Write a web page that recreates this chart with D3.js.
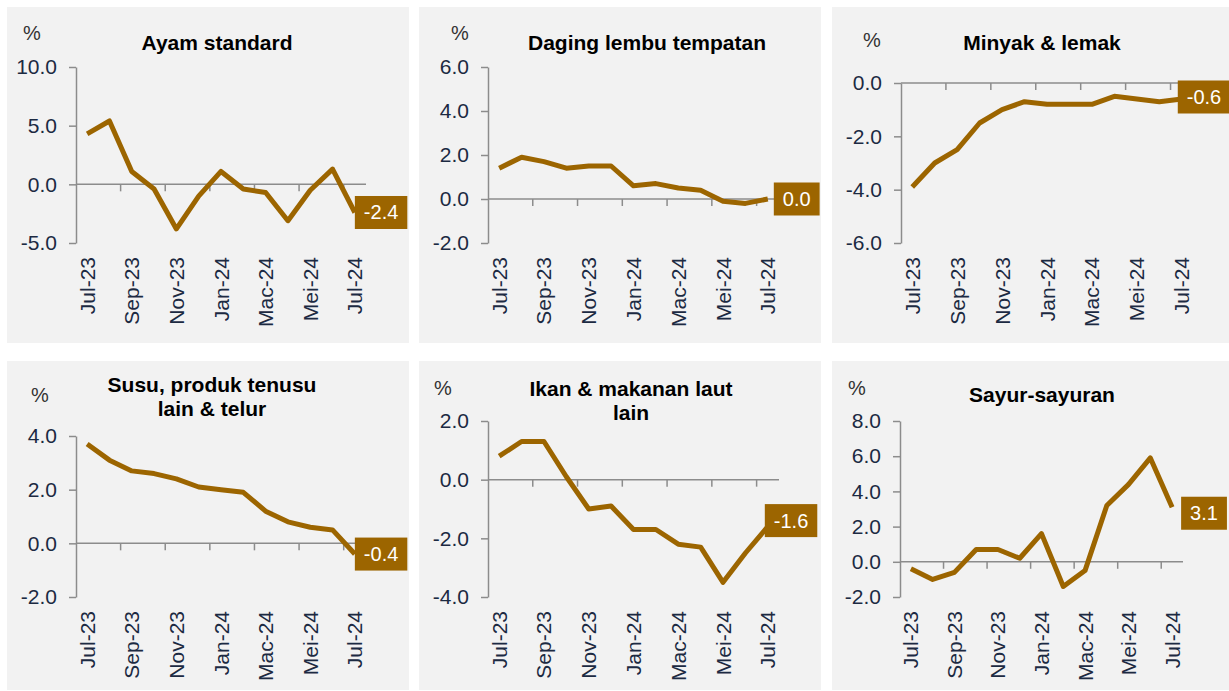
<!DOCTYPE html>
<html>
<head>
<meta charset="utf-8">
<script src="https://cdn.jsdelivr.net/npm/d3@7.9.0/dist/d3.min.js"></script>
<style>
  html, body { margin: 0; padding: 0; background: #fff; }
  svg { display: block; font-family: Arial, "Liberation Sans", sans-serif; }
</style>
</head>
<body>
<svg id="chart" width="1229" height="691"></svg>
<script>
// months Jul-23 .. Jul-24 (Malay abbreviations)
const months = ['Jul-23', 'Ogo-23', 'Sep-23', 'Okt-23', 'Nov-23', 'Dis-23',
                'Jan-24', 'Feb-24', 'Mac-24', 'Apr-24', 'Mei-24', 'Jun-24', 'Jul-24'];

const ayam   = [4.3, 5.4, 1.1, -0.4, -3.8, -1.0, 1.1, -0.4, -0.7, -3.1, -0.5, 1.3, -2.4];
const daging = [1.4, 1.9, 1.7, 1.4, 1.5, 1.5, 0.6, 0.7, 0.5, 0.4, -0.1, -0.2, 0.0];
const minyak = [-3.9, -3.0, -2.5, -1.5, -1.0, -0.7, -0.8, -0.8, -0.8, -0.5, -0.6, -0.7, -0.6];
const susu   = [3.7, 3.1, 2.7, 2.6, 2.4, 2.1, 2.0, 1.9, 1.2, 0.8, 0.6, 0.5, -0.4];
const ikan   = [0.8, 1.3, 1.3, 0.1, -1.0, -0.9, -1.7, -1.7, -2.2, -2.3, -3.5, -2.5, -1.6];
const sayur  = [-0.4, -1.0, -0.6, 0.7, 0.7, 0.2, 1.6, -1.4, -0.5, 3.2, 4.4, 5.9, 3.1];

const ayamTicks   = [-5, 0, 5, 10];
const dagingTicks = [-2, 0, 2, 4, 6];
const minyakTicks = [-6, -4, -2, 0];
const susuTicks   = [-2, 0, 2, 4];
const ikanTicks   = [-4, -2, 0, 2];
const sayurTicks  = [-2, 0, 2, 4, 6, 8];

const titles = [
  ['Ayam standard'],
  ['Daging lembu tempatan'],
  ['Minyak & lemak'],
  ['Susu, produk tenusu', 'lain & telur'],
  ['Ikan & makanan laut', 'lain'],
  ['Sayur-sayuran']
];

const series = [ayam, daging, minyak, susu, ikan, sayur];
const ticks  = [ayamTicks, dagingTicks, minyakTicks, susuTicks, ikanTicks, sayurTicks];

// panel geometry (pixels)
const layout = [
  { bg: [7, 7, 402, 336],     ax: 76,  right: 366,  yTop: 67,  yBot: 243, tx: 217,  ty: 42,  px: 32,  py: 33,  dx: 0,  dy: 0 },
  { bg: [419, 7, 402, 336],   ax: 488, right: 779,  yTop: 67,  yBot: 243, tx: 647,  ty: 42,  px: 460, py: 33,  dx: 6,  dy: 0 },
  { bg: [832, 7, 397, 336],   ax: 901, right: 1193, yTop: 83,  yBot: 243, tx: 1042, ty: 42,  px: 872, py: 40,  dx: -4, dy: -2 },
  { bg: [7, 361, 402, 329],   ax: 76,  right: 366,  yTop: 436, yBot: 597, tx: 212,  ty: 384, px: 40,  py: 395, dx: 0,  dy: 0 },
  { bg: [419, 361, 402, 329], ax: 488, right: 779,  yTop: 421, yBot: 597, tx: 631,  ty: 388, px: 443, py: 388, dx: -3, dy: -6 },
  { bg: [832, 361, 397, 329], ax: 900, right: 1183, yTop: 421, yBot: 597, tx: 1042, ty: 394, px: 857, py: 388, dx: 9,  dy: 6 }
];

const gold     = '#9c6500';
const axisGray = '#8c8c8c';
const tickText = '#1c2a42';
const fmt      = v => v.toFixed(1);

const svg = d3.select('#chart');

series.forEach((values, k) => {
  const L = layout[k];
  const g = svg.append('g');

  g.append('rect')
    .attr('x', L.bg[0]).attr('y', L.bg[1])
    .attr('width', L.bg[2]).attr('height', L.bg[3])
    .attr('fill', '#f2f2f2');

  const tv = ticks[k];
  const x = d3.scaleBand().domain(months).range([L.ax, L.right]);
  const y = d3.scaleLinear().domain([d3.min(tv), d3.max(tv)]).range([L.yBot, L.yTop]);
  const bw = x.bandwidth();

  // title + unit
  titles[k].forEach((line, i) => {
    g.append('text')
      .attr('x', L.tx).attr('y', L.ty + i * 24)
      .attr('text-anchor', 'middle')
      .attr('dominant-baseline', 'central')
      .attr('font-size', 21).attr('font-weight', 'bold')
      .attr('fill', '#000')
      .text(line);
  });
  g.append('text')
    .attr('x', L.px).attr('y', L.py)
    .attr('text-anchor', 'middle')
    .attr('dominant-baseline', 'central')
    .attr('font-size', 20).attr('fill', '#333')
    .text('%');

  // y axis
  const yAxis = g.append('g')
    .attr('transform', `translate(${L.ax},0)`)
    .call(d3.axisLeft(y).tickValues(tv).tickFormat(fmt).tickSize(7).tickSizeOuter(0).tickPadding(12));
  yAxis.select('.domain').attr('stroke', axisGray).attr('stroke-width', 1.5);
  yAxis.selectAll('.tick line').attr('stroke', axisGray).attr('stroke-width', 1.5);
  yAxis.selectAll('.tick text')
    .attr('font-size', 21).attr('fill', tickText)
    .attr('font-family', 'Arial, "Liberation Sans", sans-serif');

  // zero baseline with category ticks every second month
  const y0 = y(0);
  g.append('line')
    .attr('x1', L.ax).attr('x2', L.right)
    .attr('y1', y0).attr('y2', y0)
    .attr('stroke', axisGray).attr('stroke-width', 1.5);
  months.forEach((m, i) => {
    if (i > 0 && i % 2 === 0) {
      g.append('line')
        .attr('x1', x(m)).attr('x2', x(m))
        .attr('y1', y0).attr('y2', y0 + 7)
        .attr('stroke', axisGray).attr('stroke-width', 1.5);
    }
  });

  // x labels
  months.forEach((m, i) => {
    if (i % 2 !== 0) return;
    const cx = x(m) + bw / 2;
    const cy = L.yBot + 14;
    g.append('text')
      .attr('transform', `translate(${cx},${cy}) rotate(-90)`)
      .attr('text-anchor', 'end')
      .attr('dominant-baseline', 'central')
      .attr('font-size', 21).attr('fill', tickText)
      .text(m);
  });

  // line
  const line = d3.line()
    .x((d, i) => x(months[i]) + bw / 2)
    .y(d => y(d));
  g.append('path')
    .datum(values)
    .attr('d', line)
    .attr('fill', 'none')
    .attr('stroke', gold)
    .attr('stroke-width', 5)
    .attr('stroke-linejoin', 'round');

  // last value label
  const last = values[values.length - 1];
  const lx = x(months[months.length - 1]) + bw / 2 + L.dx;
  const ly = y(last) + L.dy;
  const box = g.append('rect')
    .attr('y', ly - 16.5)
    .attr('height', 33)
    .attr('fill', gold);
  const lbl = g.append('text')
    .attr('y', ly)
    .attr('dominant-baseline', 'central')
    .attr('text-anchor', 'middle')
    .attr('font-size', 20).attr('fill', '#fff')
    .text(fmt(last));
  const w = lbl.node().getComputedTextLength() + 18;
  box.attr('x', lx).attr('width', w);
  lbl.attr('x', lx + w / 2);
});
</script>
</body>
</html>
